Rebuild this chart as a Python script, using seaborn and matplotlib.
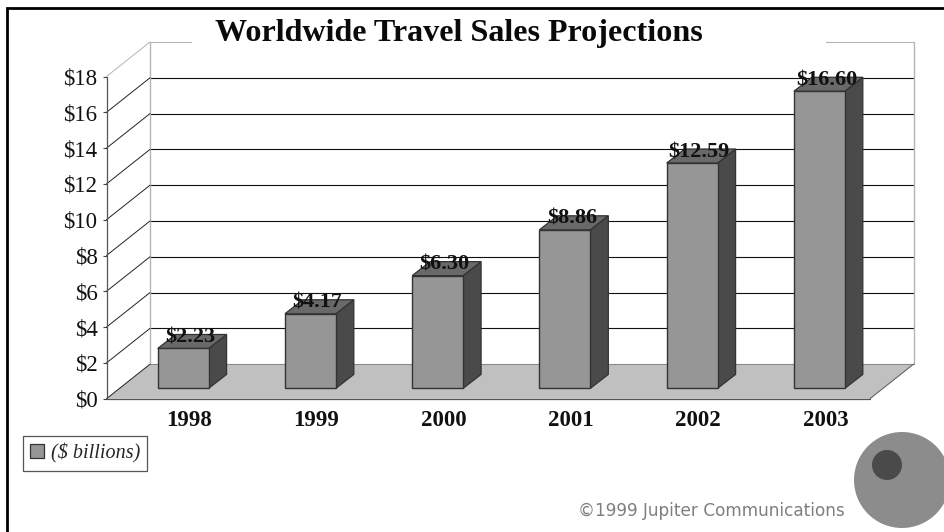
import matplotlib
matplotlib.use("Agg")
import matplotlib.pyplot as plt
import seaborn as sns
from matplotlib.lines import Line2D
from matplotlib.patches import Circle, Patch, Polygon, Rectangle
from matplotlib.transforms import Affine2D, IdentityTransform

years = ["1998", "1999", "2000", "2001", "2002", "2003"]
sales = [2.23, 4.17, 6.30, 8.86, 12.59, 16.60]
value_labels = ["$2.23", "$4.17", "$6.30", "$8.86", "$12.59", "$16.60"]
y_ticks = [0, 2, 4, 6, 8, 10, 12, 14, 16, 18]
y_tick_labels = ["$0", "$2", "$4", "$6", "$8", "$10", "$12", "$14", "$16", "$18"]
title = "Worldwide Travel Sales Projections"
legend_label = "($ billions)"
credit = "©1999 Jupiter Communications"

W, H, DPI = 944, 532, 100
SERIF = "Liberation Serif"
FACE, TOP, SIDE, EDGE = "#969696", "#696969", "#4a4a4a", "#333333"
FLOOR, WALL = "#c0c0c0", "#b4b4b4"
WALL_DX, WALL_DY = 43.5, 34.5
BAR_DX, BAR_DY = 13.0, 10.3
DEPTH_DX, DEPTH_DY = 18.0, 14.0


def px_y(y):
    return H - y


sns.set_theme(style="white")
plt.rcParams["font.family"] = [SERIF, "DejaVu Sans"]
fig = plt.figure(figsize=(W / DPI, H / DPI), dpi=DPI, facecolor="white")
left, right, bottom, top = 106.5, 870.0, 398.7, 76.5
ax = fig.add_axes([left / W, 1 - bottom / H, (right - left) / W, (bottom - top) / H])

sns.barplot(x=years, y=sales, color=FACE, saturation=1, width=0.40, ax=ax,
            edgecolor=EDGE, linewidth=1.0, zorder=6)
ax.set_xlim(-0.5, 5.5)
ax.set_ylim(0, 18)
ax.set_xlabel("")
ax.set_ylabel("")
ax.patch.set_alpha(0)
for s in ax.spines.values():
    s.set_visible(False)


def shifted(dx, dy):
    return ax.transData + Affine2D().translate(dx, dy)


back = shifted(WALL_DX, WALL_DY)
x0, x1 = ax.get_xlim()

# floor
floor_pts = [ax.transData.transform((x0, 0)), ax.transData.transform((x1, 0)),
             back.transform((x1, 0)), back.transform((x0, 0))]
ax.add_patch(Polygon(floor_pts, closed=True, transform=IdentityTransform(),
                     facecolor=FLOOR, edgecolor="none", zorder=1, clip_on=False))

# walls, gridlines, diagonals
for v in y_ticks:
    if v > 0:
        ax.plot([x0, x1], [v, v], transform=back, color=WALL if v == 18 else "#111111",
                lw=0.8, zorder=2, clip_on=False)
    p = ax.transData.transform((x0, v))
    q = back.transform((x0, v))
    ax.add_line(Line2D([p[0], q[0]], [p[1], q[1]], transform=IdentityTransform(),
                       color=WALL if v == 18 else "#222222", lw=0.7, zorder=3, clip_on=False))
ax.plot([x0, x0], [0, 18], transform=back, color=WALL, lw=1.0, zorder=2, clip_on=False)
ax.plot([x1, x1], [0, 18], transform=back, color=WALL, lw=1.0, zorder=2, clip_on=False)
ax.plot([x0, x1], [0, 0], transform=back, color="#8a8a8a", lw=0.8, zorder=2, clip_on=False)
ax.plot([x0, x0], [0, 18], color="#555555", lw=0.9, zorder=4, clip_on=False)
ax.plot([x0, x1], [0, 0], color="#555555", lw=0.9, zorder=4, clip_on=False)
p, q = ax.transData.transform((x1, 0)), back.transform((x1, 0))
ax.add_line(Line2D([p[0], q[0]], [p[1], q[1]], transform=IdentityTransform(),
                   color="#555555", lw=0.7, zorder=3, clip_on=False))

# bars with their depth faces
bar_tf = shifted(BAR_DX, BAR_DY)
for bar, label in zip(ax.patches[:len(sales)], value_labels):
    bar.set_transform(bar_tf)
    bar.set_clip_on(False)
    xa, xb, h = bar.get_x(), bar.get_x() + bar.get_width(), bar.get_height()
    a1 = bar_tf.transform((xa, h))
    b0 = bar_tf.transform((xb, 0))
    b1 = bar_tf.transform((xb, h))
    d = (DEPTH_DX, DEPTH_DY)
    ax.add_patch(Polygon([b0, b1, b1 + d, b0 + d], closed=True, transform=IdentityTransform(),
                         facecolor=SIDE, edgecolor=EDGE, lw=0.9, zorder=5, clip_on=False))
    ax.add_patch(Polygon([a1, b1, b1 + d, a1 + d], closed=True, transform=IdentityTransform(),
                         facecolor=TOP, edgecolor=EDGE, lw=0.9, zorder=5, clip_on=False))
    cx = (a1[0] + b1[0]) / 2 + 7
    ax.text(cx, a1[1] + 11, label, transform=IdentityTransform(), ha="center", va="center",
            fontsize=16, fontfamily=SERIF, fontweight="bold", color="#111111",
            zorder=8, clip_on=False)

# axis labelling
ax.set_yticks(y_ticks)
ax.set_yticklabels(y_tick_labels, fontsize=16.5, color="#111111")
ax.tick_params(axis="y", length=3, width=0.8, color="#444444", pad=3.5, left=True)
ax.tick_params(axis="x", length=0, pad=8)
ax.set_xticks(range(len(years)))
ax.set_xticklabels(years, fontsize=16.5, fontweight="bold", color="#111111")
for lab in ax.get_xticklabels():
    lab.set_transform(lab.get_transform() + Affine2D().translate(19, 0))

# title with its white box interrupting the wall's top edge
ax.add_patch(Rectangle((192, px_y(60)), 634, 45, transform=IdentityTransform(),
                       facecolor="white", edgecolor="none", zorder=3.5, clip_on=False))
fig.text(458.5 / W, 1 - 33 / H, title, ha="center", va="center", fontsize=23.1,
         fontweight="bold", color="#0a0a0a", fontfamily=SERIF)

# legend
handle = Patch(facecolor=FACE, edgecolor="#333333", linewidth=0.9, label=legend_label)
leg = fig.legend(handles=[handle], loc="upper left",
                 bbox_to_anchor=(23 / W, 1 - 436 / H), bbox_transform=fig.transFigure,
                 frameon=True, fancybox=False, edgecolor="#555555", framealpha=1,
                 borderaxespad=0, borderpad=0.36, handlelength=0.7, handleheight=0.7,
                 handletextpad=0.32, prop={"family": SERIF, "style": "italic", "size": 14.5})
leg.get_frame().set_linewidth(0.9)

# credit and logo
fig.text(711 / W, 1 - 511 / H, credit, ha="center", va="center", fontsize=12.2,
         color="#7f7f7f", fontfamily="DejaVu Sans")
fig.add_artist(Circle((902, px_y(480)), 48, transform=IdentityTransform(),
                      facecolor="#8c8c8c", edgecolor="none"))
fig.add_artist(Circle((887, px_y(465)), 15, transform=IdentityTransform(),
                      facecolor="#4a4a4a", edgecolor="none"))

# page frame on the left and top
fig.add_artist(Line2D([7, 7, W], [0, px_y(8), px_y(8)], transform=IdentityTransform(),
                      color="black", lw=2.0, solid_joinstyle="miter"))

fig.savefig("out.png", dpi=DPI, facecolor="white")
